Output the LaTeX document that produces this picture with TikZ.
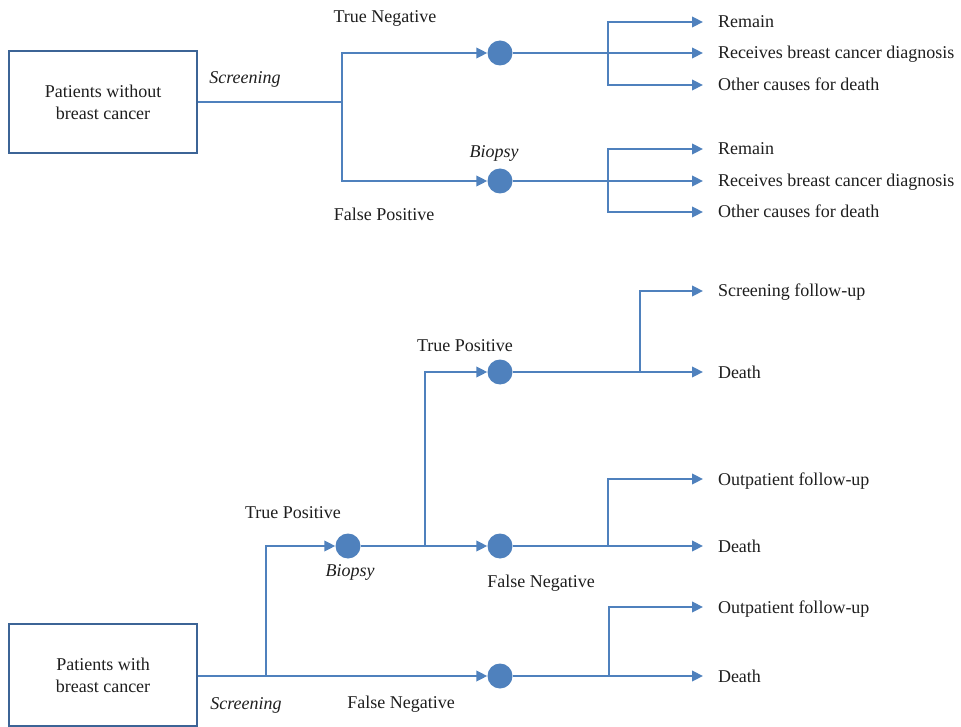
\documentclass[tikz,border=0pt]{standalone}
\usepackage{fontspec}
\setmainfont{Liberation Serif}
\usetikzlibrary{arrows.meta}
\definecolor{treeblue}{HTML}{4F81BD}
\definecolor{boxblue}{HTML}{3C6496}
\definecolor{inkgray}{HTML}{1E1E1E}
\begin{document}
\begin{tikzpicture}[x=1pt,y=-1pt,
  link/.style={draw=treeblue, line width=2.3pt},
  arr/.style={link, -{Triangle[length=11pt,width=10.5pt]}},
  chance/.style={circle, fill=treeblue, minimum size=25pt, inner sep=0pt},
  patient/.style={draw=boxblue, line width=2.3pt, minimum width=188pt, minimum height=102pt,
    align=center, inner sep=0pt, text=inkgray, font=\fontsize{18}{22}\selectfont},
  lbl/.style={text=inkgray, inner sep=0pt, text height=12pt, text depth=0pt,
    font=\fontsize{18}{20}\selectfont},
  act/.style={lbl, font=\fontsize{18}{20}\selectfont\itshape},
  outcome/.style={lbl, anchor=west, outer xsep=15pt},
]
\useasboundingbox (0,0) rectangle (961,727);

% ---------- patients without breast cancer ----------
\node[patient] (healthy) at (103,102) {Patients without\\breast cancer};
\node[act] (scrA) at (245,78) {Screening};
\coordinate (splitA) at (342,102);
\node[chance] (tn) at (500,53) {};
\node[chance] (fp) at (500,181) {};
\node[lbl] (tnlbl) at (385,17) {True Negative};
\node[lbl] (fplbl) at (384,215) {False Positive};
\node[act] (bioA) at (494,152) {Biopsy};

\draw[link] (healthy.east) -- (splitA);
\draw[arr] (splitA) |- (tn);
\draw[arr] (splitA) |- (fp);

% outcomes after a true negative
\coordinate (kTN) at (608,53);
\node[outcome] (tnR) at (703,22) {Remain};
\node[outcome] (tnD) at (703,53) {Receives breast cancer diagnosis};
\node[outcome] (tnO) at (703,85) {Other causes for death};
\draw[link] (tn) -- (kTN);
\draw[arr] (kTN) |- (tnR);
\draw[arr] (kTN) -- (tnD);
\draw[arr] (kTN) |- (tnO);

% outcomes after a false positive
\coordinate (kFP) at (608,181);
\node[outcome] (fpR) at (703,149) {Remain};
\node[outcome] (fpD) at (703,181) {Receives breast cancer diagnosis};
\node[outcome] (fpO) at (703,212) {Other causes for death};
\draw[link] (fp) -- (kFP);
\draw[arr] (kFP) |- (fpR);
\draw[arr] (kFP) -- (fpD);
\draw[arr] (kFP) |- (fpO);

% ---------- patients with breast cancer ----------
\node[patient] (sick) at (103,675) {Patients with\\breast cancer};
\node[act] (scrB) at (246,703) {Screening};
\coordinate (splitB) at (266,676);
\node[chance] (tp) at (348,546) {};
\node[chance] (fn) at (500,676) {};
\node[lbl] (tplbl) at (293,512) {True Positive};
\node[act] (bioB) at (350,570) {Biopsy};
\node[lbl] (fnlbl) at (401,702) {False Negative};

\draw[link] (sick.east |- splitB) -- (splitB);
\draw[arr] (splitB) |- (tp);
\draw[arr] (splitB) -- (fn);

% biopsy result
\coordinate (splitC) at (425,546);
\node[chance] (btp) at (500,372) {};
\node[chance] (bfn) at (500,546) {};
\node[lbl] (btplbl) at (465,345) {True Positive};
\node[lbl] (bfnlbl) at (541,581) {False Negative};
\draw[link] (tp) -- (splitC);
\draw[arr] (splitC) |- (btp);
\draw[arr] (splitC) -- (bfn);

% outcomes after biopsy true positive
\coordinate (kBTP) at (640,372);
\node[outcome] (btpS) at (703,291) {Screening follow-up};
\node[outcome] (btpD) at (703,372) {Death};
\draw[link] (btp) -- (kBTP);
\draw[arr] (kBTP) |- (btpS);
\draw[arr] (kBTP) -- (btpD);

% outcomes after biopsy false negative
\coordinate (kBFN) at (608,546);
\node[outcome] (bfnO) at (703,479) {Outpatient follow-up};
\node[outcome] (bfnD) at (703,546) {Death};
\draw[link] (bfn) -- (kBFN);
\draw[arr] (kBFN) |- (bfnO);
\draw[arr] (kBFN) -- (bfnD);

% outcomes after screening false negative
\coordinate (kFN) at (609,676);
\node[outcome] (fnO) at (703,607) {Outpatient follow-up};
\node[outcome] (fnD) at (703,676) {Death};
\draw[link] (fn) -- (kFN);
\draw[arr] (kFN) |- (fnO);
\draw[arr] (kFN) -- (fnD);
\end{tikzpicture}
\end{document}
